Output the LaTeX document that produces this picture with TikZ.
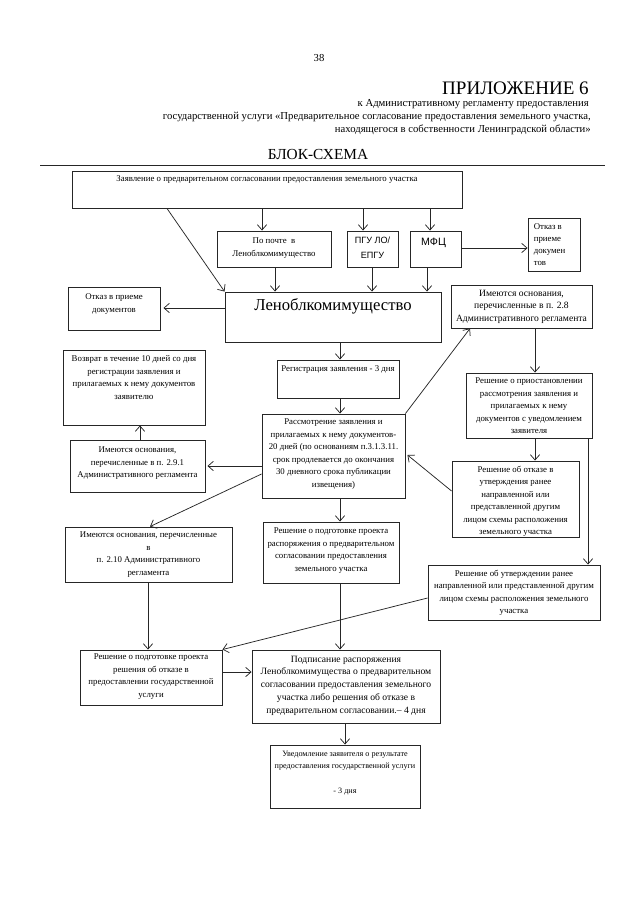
\documentclass[tikz,border=0pt]{standalone}
\usepackage{fontspec}
\setmainfont{Liberation Serif}
\newfontfamily\sansf{Liberation Sans}
\usetikzlibrary{arrows.meta,fit,calc}
\newcommand{\mybox}[5]{\node[frame, fit={(#2,#3) (#4,#5)}] (#1) {};}
\begin{document}
\begin{tikzpicture}[x=0.75pt,y=-0.75pt,
  frame/.style={draw=black!85, line width=0.7pt, inner sep=0pt},
  txt/.style={font=\fontsize{6.6}{9.4}\selectfont, align=center, inner sep=0pt, anchor=north},
  hdr/.style={font=\fontsize{8}{9.75}\selectfont, inner sep=0pt},
  arr/.style={draw=black!85, line width=0.55pt, -{Straight Barb[length=4pt,width=7pt]}},
  ln/.style={draw=black!85, line width=0.55pt}]
\fill[white] (0,0) rectangle (640,905);
\useasboundingbox (0,0) rectangle (640,905);

% header
\node[hdr] (pnum) at (319,58) {38};
\node[font=\fontsize{14.3}{16}\selectfont, anchor=east, inner sep=0pt] (pril) at (589,88) {ПРИЛОЖЕНИЕ 6};
\node[hdr, anchor=east] (h1) at (589,104) {к Административному регламенту предоставления};
\node[hdr, anchor=east] (h2) at (591,117) {государственной услуги «Предварительное согласование предоставления земельного участка,};
\node[hdr, anchor=east] (h3) at (591,130) {находящегося в собственности Ленинградской области»};
\node[font=\fontsize{11.5}{13}\selectfont, inner sep=0pt] (title) at (318,155) {БЛОК-СХЕМА};
\coordinate (hl1) at (40,165);
\coordinate (hl2) at (605,165);
\draw[ln] (hl1) -- (hl2);

% boxes
\mybox{zayav}{72}{171}{462}{208}
\node[txt] (tzayav) at ($(zayav.north)+(0,5)$) {Заявление о предварительном согласовании предоставления земельного участка};

\mybox{pochta}{217}{231}{331}{267}
\node[txt] (tpochta) at ($(pochta.north)+(0,7)$) {По почте \ в\\Леноблкомимущество};

\mybox{pgu}{347}{231}{398}{267}
\node[txt, font=\sansf\fontsize{6.8}{11}\selectfont] (tpgu) at ($(pgu.north)+(0,6)$) {ПГУ ЛО/\\ЕПГУ};

\mybox{mfc}{410}{231}{461}{267}
\node[txt, font=\sansf\fontsize{8}{10}\selectfont] (tmfc) at ($(mfc.north)+(-2,7)$) {МФЦ};

\mybox{otkazA}{528}{218}{580}{271}
\node[txt, align=left, anchor=north west, font=\fontsize{6.6}{9}\selectfont] (totkazA) at ($(otkazA.north west)+(6,6)$) {Отказ в\\приеме\\докумен\\тов};

\mybox{lenobl}{225}{292}{441}{342}
\node[txt, font=\fontsize{12.5}{14}\selectfont] (tlenobl) at ($(lenobl.north)+(0,7)$) {Леноблкомимущество};

\mybox{otkazB}{68}{287}{160}{330}
\node[txt] (totkazB) at ($(otkazB.north)+(0,7)$) {Отказ в приеме\\документов};

\mybox{osnA}{451}{285}{592}{328}
\node[txt, font=\fontsize{7.2}{9.6}\selectfont] (tosnA) at ($(osnA.north)+(0,5)$) {Имеются основания,\\перечисленные в п. 2.8\\ Административного регламента};

\mybox{reg}{277}{360}{399}{398}
\node[txt] (treg) at ($(reg.north)+(0,6)$) {Регистрация заявления - 3 дня};

\mybox{vozvr}{63}{350}{205}{425}
\node[txt] (tvozvr) at ($(vozvr.north)+(0,6)$) {Возврат в течение 10 дней со дня\\регистрации заявления и\\прилагаемых к нему документов\\заявителю};

\mybox{pristan}{466}{373}{592}{438}
\node[txt] (tpristan) at ($(pristan.north)+(0,5)$) {Решение о приостановлении\\рассмотрения заявления и\\прилагаемых к нему\\документов с уведомлением\\заявителя};

\mybox{rassm}{262}{414}{405}{498}
\node[txt] (trassm) at ($(rassm.north)+(0,5)$) {Рассмотрение заявления и\\прилагаемых к нему документов-\\20 дней (по основаниям п.3.1.3.11.\\срок продлевается до окончания\\30 дневного срока публикации\\извещения)};

\mybox{osnB}{70}{440}{205}{492}
\node[txt] (tosnB) at ($(osnB.north)+(0,7)$) {Имеются основания,\\перечисленные в п. 2.9.1\\Административного регламента};

\mybox{otkutv}{452}{461}{579}{537}
\node[txt] (totkutv) at ($(otkutv.north)+(0,5)$) {Решение об отказе в\\утверждения ранее\\направленной или\\представленной другим\\лицом схемы расположения\\земельного участка};

\mybox{osnC}{65}{527}{232}{582}
\node[txt] (tosnC) at ($(osnC.north)+(0,5)$) {Имеются основания, перечисленные\\в\\п. 2.10 Административного\\регламента};

\mybox{podgr}{263}{522}{399}{583}
\node[txt] (tpodgr) at ($(podgr.north)+(0,6)$) {Решение о подготовке проекта\\распоряжения о предварительном\\согласовании предоставления\\земельного участка};

\mybox{utv}{428}{565}{600}{620}
\node[txt] (tutv) at ($(utv.north)+(0,5)$) {Решение об утверждении ранее\\направленной или представленной другим\\лицом схемы расположения земельного\\участка};

\mybox{otkpr}{80}{650}{222}{705}
\node[txt] (totkpr) at ($(otkpr.north)+(0,4)$) {Решение о подготовке проекта\\решения об отказе в\\предоставлении государственной\\услуги};

\mybox{podpis}{252}{650}{440}{723}
\node[txt, font=\fontsize{7.2}{9.6}\selectfont] (tpodpis) at ($(podpis.north)+(0,6)$) {Подписание распоряжения\\Леноблкомимущества о предварительном\\согласовании предоставления земельного\\участка либо решения об отказе в\\предварительном согласовании.– 4 дня};

\mybox{uved}{270}{745}{420}{808}
\node[txt, font=\fontsize{6.1}{9.4}\selectfont] (tuved) at ($(uved.north)+(0,6)$) {Уведомление заявителя о результате\\предоставления государственной услуги\\[9.4pt]- 3 дня};

% connectors
\draw[arr] (zayav.south -| 262,0) -- (pochta.north -| 262,0);
\draw[arr] (zayav.south -| 363,0) -- (pgu.north -| 363,0);
\draw[arr] (zayav.south -| 430,0) -- (mfc.north -| 430,0);
\draw[arr] (zayav.south -| 167,0) -- (lenobl.north west);
\draw[arr] (pochta.south -| 275,0) -- (lenobl.north -| 275,0);
\draw[arr] (pgu.south -| 372,0) -- (lenobl.north -| 372,0);
\draw[arr] (mfc.south -| 427,0) -- (lenobl.north -| 427,0);
\draw[arr] (mfc.east |- 0,248) -- (otkazA.west |- 0,248);
\draw[arr] (lenobl.west |- 0,308) -- ($(otkazB.east |- 0,308)+(3,0)$);
\draw[arr] (lenobl.south -| 340,0) -- (reg.north -| 340,0);
\draw[arr] (reg.south -| 340,0) -- (rassm.north -| 340,0);
\draw[arr] (rassm.north east) -- (osnA.south -| 470,0);
\draw[arr] (osnA.south -| 535,0) -- (pristan.north -| 535,0);
\draw[arr] (pristan.south -| 535,0) -- (otkutv.north -| 535,0);
\draw[arr] (pristan.south -| 588,0) -- (utv.north -| 588,0);
\draw[arr] (otkutv.west |- 0,491) -- ($(rassm.east |- 0,455)+(2,0)$);
\draw[arr] (rassm.west |- 0,466) -- ($(osnB.east |- 0,466)+(2,0)$);
\draw[arr] (osnB.north -| 140,0) -- (vozvr.south -| 140,0);
\draw[arr] (rassm.west |- 0,474) -- (osnC.north -| 150,0);
\draw[arr] (rassm.south -| 340,0) -- (podgr.north -| 340,0);
\draw[arr] (podgr.south -| 340,0) -- (podpis.north -| 340,0);
\draw[arr] (osnC.south -| 148,0) -- (otkpr.north -| 148,0);
\draw[arr] (utv.west |- 0,598) -- (otkpr.north east);
\draw[arr] (otkpr.east |- 0,672) -- (podpis.west |- 0,672);
\draw[arr] (podpis.south -| 345,0) -- (uved.north -| 345,0);
\end{tikzpicture}
\end{document}
